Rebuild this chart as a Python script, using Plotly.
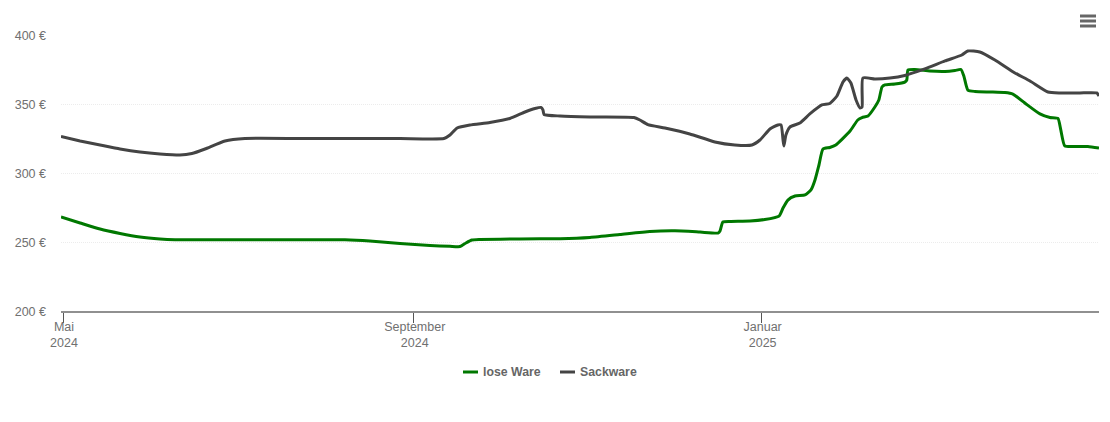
import pandas as pd
import plotly.graph_objects as go

# days are counted from 1 May 2024, prices in euro
START = pd.Timestamp("2024-05-01")

lose_days = [-0.7, 6.0, 13.0, 20.0, 27.0, 34.0, 39.3, 48.0, 65.6, 83.1, 98.9, 107.6, 118.2, 128.7, 135.7, 139.2,
             141.3, 143.4, 146.2, 160.2, 174.3, 184.8, 195.3, 205.8, 214.6, 223.4, 229.7, 230.4, 231.4, 233.9,
             240.9, 246.1, 251.1, 252.5, 254.2, 256.7, 260.2, 262.3, 263.7, 265.1, 266.5, 268.9, 271.0, 276.0,
             278.7, 280.2, 282.3, 284.7, 286.1, 287.2, 288.2, 291.7, 295.2, 295.9, 296.3, 298.7, 304.0, 309.3,
             312.8, 314.9, 315.9, 317.3, 319.8, 325.0, 330.3, 333.1, 337.3, 342.6, 346.1, 348.9, 349.9, 351.3,
             354.8, 359.4, 363.3]
lose_ware = [268.1, 263.8, 259.4, 256.2, 253.6, 252.2, 251.7, 251.6, 251.6, 251.6, 251.6, 250.7, 248.9, 247.5, 246.9, 246.7,
             249.3, 251.4, 251.8, 252.2, 252.4, 253.3, 255.4, 257.6, 258.1, 257.2, 256.5, 258.0, 264.5, 264.9,
             265.2, 266.3, 268.8, 274.6, 280.4, 283.3, 284.1, 287.7, 294.9, 305.8, 317.4, 318.5, 320.3, 330.4,
             338.4, 340.2, 341.3, 347.8, 352.9, 362.3, 363.8, 364.5, 365.9, 367.4, 374.6, 375.0, 373.9, 373.6,
             374.3, 375.0, 370.3, 360.1, 359.1, 358.7, 358.3, 357.2, 350.7, 342.8, 340.2, 339.5, 331.2, 319.6,
             319.2, 319.2, 318.1]

sack_days = [-0.7, 6.0, 13.0, 20.0, 27.0, 34.0, 41.0, 45.2, 49.8, 56.8, 63.8, 83.1, 101.0, 118.2, 133.6, 135.7,
             138.2, 142.7, 149.7, 156.7, 162.0, 165.5, 167.6, 168.3, 168.7, 174.3, 184.8, 200.2, 202.3, 205.1,
             211.1, 219.8, 228.6, 235.6, 241.6, 244.4, 247.9, 250.7, 251.8, 252.5, 252.8, 253.5, 254.9, 258.4,
             261.9, 266.1, 268.9, 271.4, 273.5, 274.9, 276.3, 278.1, 279.5, 280.2, 280.5, 284.7, 290.0, 295.2,
             302.2, 309.3, 315.2, 317.3, 321.5, 326.8, 333.8, 339.1, 345.4, 349.6, 356.6, 362.5, 363.3]
sackware = [326.4, 323.2, 320.3, 317.4, 315.2, 313.8, 313.0, 314.1, 317.4, 323.2, 325.0, 325.0, 325.0, 325.0, 325.0, 327.5,
            332.6, 334.8, 336.6, 339.5, 344.2, 346.7, 347.5, 345.7, 342.4, 341.3, 340.6, 340.2, 338.4, 335.1,
            332.6, 328.3, 322.5, 320.3, 320.3, 323.9, 331.9, 334.8, 334.8, 323.9, 319.6, 327.5, 333.3, 336.2,
            342.8, 349.3, 350.4, 355.8, 365.9, 368.8, 365.2, 352.9, 347.1, 347.8, 368.8, 368.1, 368.8, 370.7,
            375.4, 381.2, 385.5, 388.4, 387.7, 381.9, 372.5, 366.7, 358.7, 358.0, 358.0, 358.0, 355.8]

y_ticks = [200, 250, 300, 350, 400]
y_labels = ["200 €", "250 €", "300 €", "350 €", "400 €"]
x_ticks = ["2024-05-01", "2024-09-01", "2025-01-01"]
x_labels = ["Mai<br>2024", "September<br>2024", "Januar<br>2025"]

GREEN = "#007800"
DARK = "#444444"
FONT = "Liberation Sans"

W, H = 1110, 422
L, R, T, B = 61, 1099, 35, 311


def dates(days):
    return [START + pd.Timedelta(days=d) for d in days]


def px(x):
    return (x - L) / (R - L)


def py(y):
    return (B - y) / (B - T)


fig = go.Figure()
fig.add_trace(go.Scatter(x=dates(lose_days), y=lose_ware, mode="lines", name="lose Ware",
                         line=dict(color=GREEN, width=3, shape="spline", smoothing=0.5)))
fig.add_trace(go.Scatter(x=dates(sack_days), y=sackware, mode="lines", name="Sackware",
                         line=dict(color=DARK, width=3, shape="spline", smoothing=0.5)))

fig.update_layout(
    width=W, height=H,
    margin=dict(l=L, r=W - R, t=T, b=H - B),
    paper_bgcolor="white", plot_bgcolor="white",
    font=dict(family=FONT, size=12.5, color="#707070"),
    showlegend=False,
)
fig.update_xaxes(
    type="date",
    range=[dates([-0.7])[0], dates([363.3])[0]],
    tickvals=x_ticks, ticktext=x_labels,
    showgrid=False, zeroline=False,
    showline=True, linecolor="#909090", linewidth=1.5,
    ticks="outside", ticklen=10, tickcolor="#555555", tickwidth=1,
    tickangle=0, ticklabelstandoff=-7, ticklabelshift=1,
)
fig.update_yaxes(
    range=[200, 400],
    tickvals=y_ticks, ticktext=y_labels,
    showgrid=True, gridcolor="#ececec", griddash="1px,1px", gridwidth=1,
    zeroline=False, showline=False, ticks="",
    ticklabelstandoff=14, ticklabelshift=1,
)

# legend, drawn by hand because the native symbol is twice as wide
for x0, color, label in [(463, GREEN, "lose Ware"), (560, DARK, "Sackware")]:
    fig.add_shape(type="line", xref="paper", yref="paper", x0=px(x0), x1=px(x0 + 15), y0=py(372), y1=py(372),
                  line=dict(color=color, width=3))
    fig.add_annotation(xref="paper", yref="paper", x=px(x0 + 18), y=py(372), text="<b>" + label + "</b>",
                       showarrow=False, xanchor="left", yanchor="middle", xshift=0,
                       font=dict(family=FONT, size=12.3, color="#666666"))

# menu button
for y in [16, 21, 26]:
    fig.add_shape(type="line", xref="paper", yref="paper", x0=px(1080), x1=px(1096), y0=py(y), y1=py(y),
                  line=dict(color="#666666", width=3))

fig.write_html("out.html", config=dict(displayModeBar=False),
               post_script="document.body.style.margin='0';")
